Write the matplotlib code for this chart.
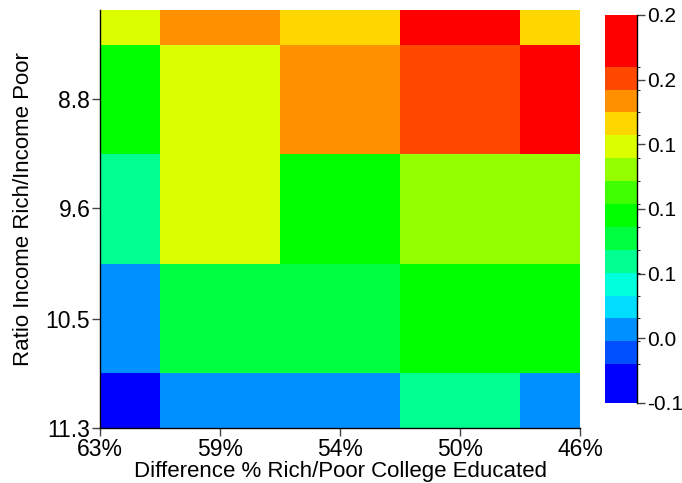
import numpy as np
import matplotlib
matplotlib.use("Agg")
import matplotlib.pyplot as plt
from matplotlib.colors import ListedColormap, BoundaryNorm

plt.rcParams['font.family'] = ['Liberation Sans', 'DejaVu Sans']

# data
x_vals = [63.0, 58.75, 54.5, 50.25, 46.0]
x_labels = ['63%', '59%', '54%', '50%', '46%']
y_vals = [7.97, 8.8, 9.63, 10.47, 11.3]
y_ticks = [8.8, 9.63, 10.47, 11.3]
y_labels = ['8.8', '9.6', '10.5', '11.3']
z_row1 = [0.148, 0.184, 0.165, 0.228, 0.167]
z_row2 = [0.096, 0.149, 0.183, 0.202, 0.222]
z_row3 = [0.061, 0.147, 0.094, 0.131, 0.130]
z_row4 = [0.007, 0.077, 0.078, 0.095, 0.096]
z_row5 = [-0.035, 0.006, 0.008, 0.060, 0.007]
vmin, vmax = -0.05, 0.25
level_bounds = [-0.05] + list(np.linspace(-0.02, 0.21, 14)) + [0.25]
level_colors = ['#0000ff', '#0050ff', '#0090ff', '#00ddff', '#00ffdd', '#00ff90',
                '#00ff40', '#00ff00', '#40ff00', '#94ff00', '#dcff00', '#ffd700',
                '#ff9000', '#ff4800', '#ff0000']
cbar_ticks = [-0.05, 0.0, 0.05, 0.10, 0.15, 0.20, 0.25]
cbar_labels = ['-0.1', '0.0', '0.1', '0.1', '0.1', '0.2', '0.2']

Z = np.array([z_row1, z_row2, z_row3, z_row4, z_row5])
cmap = ListedColormap(level_colors)
norm = BoundaryNorm(level_bounds, cmap.N)

fig = plt.figure(figsize=(6.82, 4.83), dpi=100)
ax = fig.add_axes([100/682, 1-428/483, 480/682, 418/483])
mesh = ax.pcolormesh(x_vals, y_vals, Z, cmap=cmap, norm=norm, shading='nearest')
ax.set_xlim(63, 46)
ax.set_ylim(11.3, 8.12)
ax.set_xticks(x_vals)
ax.set_xticklabels(x_labels)
ax.set_yticks(y_ticks)
ax.set_yticklabels(y_labels)
for s in ['top', 'right']:
    ax.spines[s].set_visible(False)
for s in ['left', 'bottom']:
    ax.spines[s].set_color('black')
    ax.spines[s].set_linewidth(1.0)
ax.tick_params(axis='both', direction='out', length=6, width=1, color='#444444',
               labelsize=16.5, pad=1)
ax.set_xlabel('Difference % Rich/Poor College Educated', fontsize=16, labelpad=0)
ax.set_ylabel('Ratio Income Rich/Income Poor', fontsize=16)
ax.yaxis.set_label_coords(-0.1375, 0.524)

cax = fig.add_axes([605/682, 1-403/483, 32/682, 388/483])
cb = fig.colorbar(mesh, cax=cax, boundaries=level_bounds, spacing='proportional')
cb.outline.set_visible(False)
cax.spines['right'].set_visible(True)
cax.spines['right'].set_color('black')
cax.spines['right'].set_linewidth(1.0)
cb.set_ticks(cbar_ticks)
cb.set_ticklabels(cbar_labels)
cax.tick_params(direction='out', length=6, width=1, color='#444444', labelsize=15, pad=1)

fig.savefig('out.png', dpi=100)
